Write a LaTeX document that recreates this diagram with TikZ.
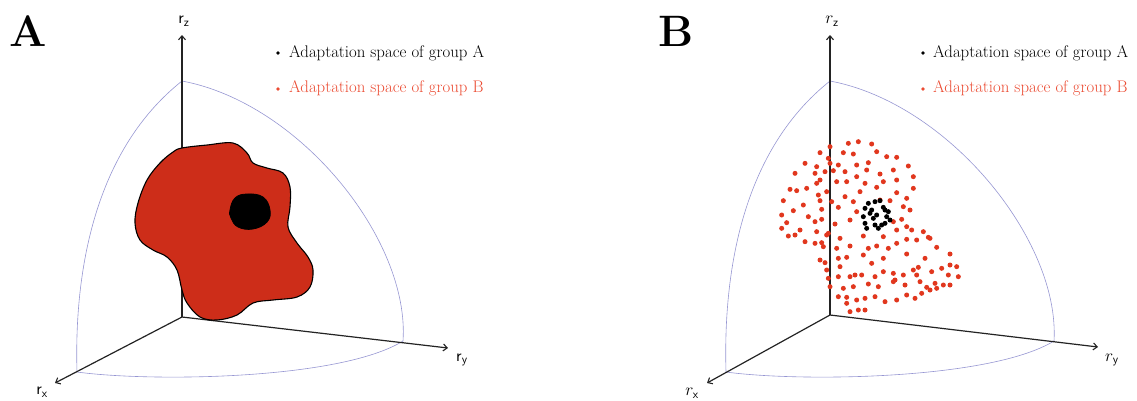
\documentclass[tikz,border=0pt]{standalone}
\usetikzlibrary{arrows.meta}
\definecolor{axisgray}{RGB}{35,35,35}
\definecolor{arcblue}{RGB}{150,150,210}
\definecolor{blobred}{RGB}{205,45,25}
\definecolor{dotred}{RGB}{225,55,30}
\definecolor{legred}{RGB}{235,75,50}
\tikzset{
  axisline/.style={draw=axisgray,line width=1.2pt,-{Straight Barb[length=4pt,width=7pt,line width=1.1pt]}},
  sphere/.style={draw=arcblue,line width=0.6pt},
  legtext/.style={anchor=base west,inner sep=0pt,font=\fontsize{16.8}{19}\selectfont},
  paneltitle/.style={inner sep=0pt,font=\fontsize{44}{48}\selectfont\bfseries},
  axlabel/.style={inner sep=0pt,font=\fontsize{17}{20}\selectfont},
  rdot/.style={fill=dotred},
  kdot/.style={fill=black},
}
\begin{document}
\begin{tikzpicture}[x=1pt,y=-1pt]
\useasboundingbox (0,0) rectangle (1137,400);
% ================= Panel A =================
\node[paneltitle] (titleA) at (28,31) {A};
\coordinate (OA) at (182,317);
\coordinate (ZA) at (182,35);
\coordinate (YA) at (448,348);
\coordinate (XA) at (55,383);
\coordinate (TA) at (182,81);
\coordinate (LA) at (77,372);
\coordinate (RA) at (403,341);
\draw[sphere] (TA) .. controls (95,150) and (74,270) .. (LA);
\draw[sphere] (TA) .. controls (300,103) and (410,240) .. (RA);
\draw[sphere] (LA) .. controls (150,382) and (340,380) .. (RA);
\draw[axisline] (OA) -- (ZA);
\draw[axisline] (OA) -- (YA);
\draw[axisline] (OA) -- (XA);
\node[axlabel] (lzA) at (184,21) {$\mathsf{r}_{\mathsf{z}}$};
\node[axlabel] (lyA) at (462,360) {$\mathsf{r}_{\mathsf{y}}$};
\node[axlabel] (lxA) at (42,392) {$\mathsf{r}_{\mathsf{x}}$};
\draw[fill=blobred,draw=black,line width=1.1pt] plot[smooth cycle,tension=0.6] coordinates {
(182,148) (207,145) (233,143) (247,153) (253,163) (267,168) (283,173) (290,187)
(290,207) (288,227) (297,243) (308,257) (313,270) (310,287) (297,297) (273,300)
(253,303) (237,315) (217,320) (200,317) (187,303) (182,290) (177,270) (167,257)
(153,250) (140,240) (135,223) (138,203) (147,180) (160,163) (173,152)};
\draw[fill=black,draw=black,line width=0.8pt] plot[smooth cycle,tension=0.7] coordinates {
(230,210) (235,198) (247,194) (263,197) (270,210) (267,222) (253,229) (238,227) (231,218)};
\fill[black] (278,53) circle (1.8pt);
\node[legtext,text=black] (legAa) at (289,57) {Adaptation space of group A};
\fill[legred] (278,89) circle (1.8pt);
\node[legtext,text=legred] (legAb) at (289,92) {Adaptation space of group B};
% ================= Panel B =================
\node[paneltitle] (titleB) at (676,31) {B};
\coordinate (OB) at (830,315);
\coordinate (ZB) at (830,35);
\coordinate (YB) at (1098,347);
\coordinate (XB) at (707,383);
\coordinate (TB) at (830,81);
\coordinate (LB) at (726,372);
\coordinate (RB) at (1054,341);
\draw[sphere] (TB) .. controls (743,150) and (723,270) .. (LB);
\draw[sphere] (TB) .. controls (948,103) and (1060,240) .. (RB);
\draw[sphere] (LB) .. controls (799,382) and (990,380) .. (RB);
\draw[axisline] (OB) -- (ZB);
\draw[axisline] (OB) -- (YB);
\draw[axisline] (OB) -- (XB);
\node[axlabel] (lzB) at (832,21) {$r_{\mathsf{z}}$};
\node[axlabel] (lyB) at (1112,360) {$r_{\mathsf{y}}$};
\node[axlabel] (lxB) at (692,393) {$r_{\mathsf{x}}$};
\begin{scope}[xshift=750pt,yshift=-130pt,x=0.33333pt,y=-0.33333pt]
\foreach \p in {(295,40),(325,35),(365,42),(240,50),(210,68),(280,68),(310,72),(380,65),(235,85),(240,100),(410,80),(165,100),(355,98),(440,82),(200,110),(250,122),(265,105),(320,105),(285,125),(350,120),(475,108),(135,130),(195,130),(225,125),(390,132),(430,120),(490,140),(210,150),(260,155),(290,155),(320,140),(400,155),(440,150),(120,178),(140,182),(170,175),(200,160),(230,185),(345,160),(380,172),(490,175),(100,212),(160,225),(205,195),(210,212),(245,215),(285,200),(330,185),(440,188),(470,205),(130,242),(215,238),(265,232),(310,215),(390,210),(420,212),(460,230),(95,255),(175,260),(215,268),(300,270),(320,245),(480,240),(110,278),(195,275),(255,282),(455,268),(470,290),(95,295),(150,300),(200,305),(235,310),(430,275),(115,318),(135,315),(165,335),(230,315),(270,325),(340,318),(400,320),(440,300),(485,300),(520,305),(195,340),(220,350),(215,338),(260,355),(300,348),(355,355),(380,348),(415,355),(440,340),(470,328),(500,330),(540,325),(210,390),(225,398),(265,385),(290,382),(340,375),(365,400),(400,385),(470,372),(525,385),(560,352),(535,322),(600,372),(270,410),(300,440),(315,435),(335,435),(265,440),(375,440),(400,425),(430,430),(435,450),(460,435),(490,420),(505,412),(500,435),(545,425),(575,415),(600,405),(620,410),(595,435),(625,440),(235,445),(240,470),(280,475),(310,470),(355,462),(385,470),(430,455),(465,465),(510,455),(530,472),(555,460),(580,465),(600,465),(265,500),(290,520),(320,510),(345,505),(375,500),(405,515),(440,510),(470,495),(495,505),(515,490),(540,480),(560,475),(300,545),(325,540),(345,540),(290,502),(230,420)}
  \fill[rdot] \p circle (2.5pt);
\foreach \p in {(355,220),(375,215),(390,212),(345,235),(365,240),(400,232),(405,240),(415,245),(340,260),(370,265),(380,255),(410,260),(420,270),(345,280),(350,295),(375,285),(385,295),(395,285),(405,280),(360,250)}
  \fill[kdot] \p circle (2.5pt);
\end{scope}
\fill[black] (923,53) circle (1.8pt);
\node[legtext,text=black] (legBa) at (933,57) {Adaptation space of group A};
\fill[legred] (923,89) circle (1.8pt);
\node[legtext,text=legred] (legBb) at (933,92) {Adaptation space of group B};
\end{tikzpicture}
\end{document}
